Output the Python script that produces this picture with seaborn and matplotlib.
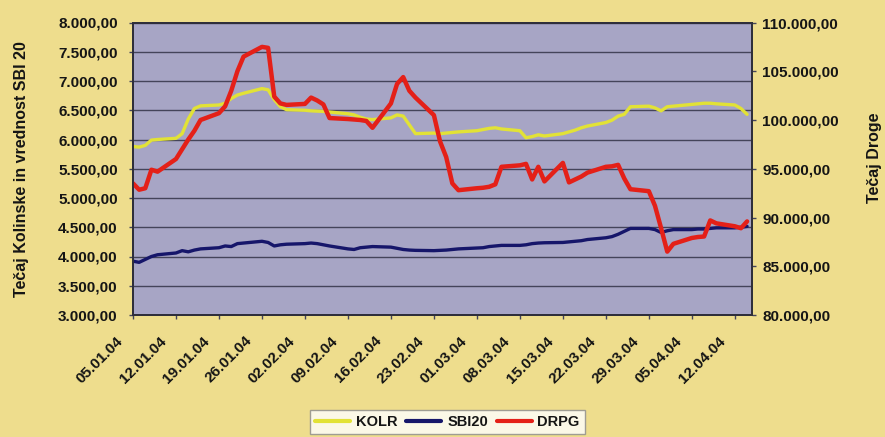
import numpy as np
import pandas as pd
import matplotlib
matplotlib.use("Agg")
import matplotlib.pyplot as plt
import matplotlib.dates as mdates
import matplotlib.ticker as mticker
import matplotlib.transforms as mtransforms
from matplotlib.lines import Line2D
import seaborn as sns

# ---------------- data (trading days 05.01.04 - 14.04.04) ----------------
dates = pd.bdate_range("2004-01-05", "2004-04-14")

kolr = [5880, 5870, 5900, 5990, 6000,
        6020, 6100, 6350, 6530, 6575,
        6590, 6620, 6700, 6760, 6790,
        6870, 6850, 6680, 6560, 6510,
        6500, 6490, 6485, 6480, 6470,
        6440, 6420, 6380, 6350, 6340,
        6370, 6420, 6400, 6250, 6100,
        6110, 6100, 6110, 6120, 6130,
        6150, 6170, 6190, 6200, 6180,
        6150, 6030, 6050, 6080, 6060,
        6100, 6130, 6160, 6200, 6230,
        6290, 6330, 6400, 6430, 6560,
        6570, 6540, 6490, 6560, 6570,
        6600, 6610, 6620, 6620, 6610,
        6590, 6530, 6430]

sbi20 = [3920, 3900, 3950, 4000, 4030,
         4060, 4100, 4080, 4110, 4130,
         4150, 4180, 4170, 4220, 4230,
         4260, 4240, 4180, 4200, 4210,
         4220, 4230, 4220, 4200, 4180,
         4130, 4120, 4150, 4160, 4170,
         4160, 4140, 4120, 4110, 4105,
         4100, 4105, 4110, 4120, 4130,
         4145, 4150, 4170, 4180, 4190,
         4190, 4200, 4220, 4230, 4235,
         4240, 4250, 4260, 4270, 4290,
         4320, 4340, 4380, 4430, 4480,
         4480, 4460, 4410, 4440, 4460,
         4460, 4470, 4470, 4480, 4490,
         4490, 4500, 4515]

drpg = [93500, 92850, 93000, 94900, 94700,
        96000, 97000, 98000, 98900, 100000,
        100700, 101400, 103000, 105000, 106500,
        107500, 107400, 102400, 101700, 101550,
        101650, 102300, 102000, 101600, 100200,
        100100, 100050, 100000, 99900, 99200,
        101700, 103700, 104400, 103000, 102300,
        100500, 97800, 96200, 93500, 92800,
        93000, 93050, 93150, 93400, 95200,
        95350, 95500, 93900, 95200, 93700,
        95600, 93600, 93900, 94200, 94600,
        95200, 95250, 95400, 94000, 92900,
        92700, 91200, 88900, 86500, 87300,
        87900, 88000, 88050, 89700, 89400,
        89100, 88900, 89600]

series_names = ["KOLR", "SBI20", "DRPG"]
left_ticks = [3000, 3500, 4000, 4500, 5000, 5500, 6000, 6500, 7000, 7500, 8000]
right_ticks = [80000, 85000, 90000, 95000, 100000, 105000, 110000]
left_label = "Tečaj Kolinske in vrednost SBI 20"
right_label = "Tečaj Droge"

# ---------------- style ----------------
BG = "#EEDD8D"
PLOT_BG = "#A7A5C5"
GRID = "#44445A"
C_KOLR = "#E2E236"
C_SBI = "#16166A"
C_DRPG = "#E42018"
TXT = "#151515"

sns.set_theme(style="white")
plt.rcParams["font.family"] = ["Liberation Sans", "DejaVu Sans"]
plt.rcParams["font.weight"] = "bold"

W, H = 885, 437
fig = plt.figure(figsize=(W / 100, H / 100), dpi=100, facecolor=BG)
L, R, T, B = 133, 752, 22.5, 315
ax = fig.add_axes([L / W, 1 - B / H, (R - L) / W, (B - T) / H])
ax.set_facecolor(PLOT_BG)
ax2 = ax.twinx()

df = pd.DataFrame({"date": dates, "KOLR": kolr, "SBI20": sbi20, "DRPG": drpg})

sns.lineplot(data=df, x="date", y="KOLR", ax=ax, color=C_KOLR, linewidth=2.4)
sns.lineplot(data=df, x="date", y="SBI20", ax=ax, color=C_SBI, linewidth=2.4)
sns.lineplot(data=df, x="date", y="DRPG", ax=ax2, color=C_DRPG, linewidth=3.2)

for a in (ax, ax2):
    a.set_xlabel("")
    a.set_ylabel("")

# axes limits / ticks
x0 = mdates.date2num(pd.Timestamp("2004-01-05"))
ax.set_xlim(x0, x0 + 100.8)
ax.set_ylim(3000, 8000)
ax2.set_ylim(80000, 110000)
ax.set_yticks(left_ticks)
ax2.set_yticks(right_ticks)

def de_fmt(v, pos=None):
    s = f"{v:,.2f}"
    return s.replace(",", "X").replace(".", ",").replace("X", ".")

ax.yaxis.set_major_formatter(mticker.FuncFormatter(de_fmt))
ax2.yaxis.set_major_formatter(mticker.FuncFormatter(de_fmt))
ax.xaxis.set_major_locator(mdates.WeekdayLocator(byweekday=mdates.MO))
ax.xaxis.set_major_formatter(mdates.DateFormatter("%d.%m.%y"))

ax.yaxis.grid(True, color=GRID, linewidth=1.0)
ax.xaxis.grid(False)
ax2.grid(False)
ax.set_axisbelow(True)

ax.tick_params(axis="y", left=True, direction="out", length=3, width=1,
               pad=8, labelsize=11, labelcolor=TXT, color=GRID)
ax.tick_params(axis="x", bottom=True, direction="out", length=3, width=1,
               pad=14, labelsize=11, labelcolor=TXT, color=GRID)
ax2.tick_params(axis="y", right=True, direction="out", length=3, width=1,
                pad=4.5, labelsize=11, labelcolor=TXT, color=GRID)

shift = mtransforms.ScaledTranslation(-0.12, 0, fig.dpi_scale_trans)
for lab in ax.get_xticklabels():
    lab.set_rotation(45)
    lab.set_ha("right")
    lab.set_va("center")
    lab.set_rotation_mode("anchor")
    lab.set_fontweight("bold")
    lab.set_transform(lab.get_transform() + shift)
for lab in ax.get_yticklabels() + ax2.get_yticklabels():
    lab.set_fontweight("bold")

for a in (ax, ax2):
    for sp in a.spines.values():
        sp.set_color("#2E2E3A")
        sp.set_linewidth(1.3)
        sp.set_visible(True)

# axis titles
fig.text(22 / W, 1 - 169 / H, left_label, rotation=90, ha="center", va="center",
         fontsize=11.5, fontweight="bold", color=TXT)
fig.text(874 / W, 1 - 158 / H, right_label, rotation=90, ha="center", va="center",
         fontsize=11.5, fontweight="bold", color=TXT)

# legend
handles = [Line2D([], [], color=C_KOLR, linewidth=3),
           Line2D([], [], color=C_SBI, linewidth=3),
           Line2D([], [], color=C_DRPG, linewidth=3)]
leg = fig.legend(handles, series_names, loc="upper center",
                 bbox_to_anchor=(447.5 / W, 1 - 410 / H), ncol=3,
                 frameon=True, fancybox=False, facecolor="white",
                 edgecolor="#8A8A8A", fontsize=10.5, handlelength=2.4,
                 handletextpad=0.4, columnspacing=0.6, borderpad=0.35,
                 borderaxespad=0)
leg.get_frame().set_linewidth(1.0)
for t in leg.get_texts():
    t.set_fontweight("bold")
    t.set_color(TXT)

fig.savefig("out.png", dpi=100, facecolor=BG)
